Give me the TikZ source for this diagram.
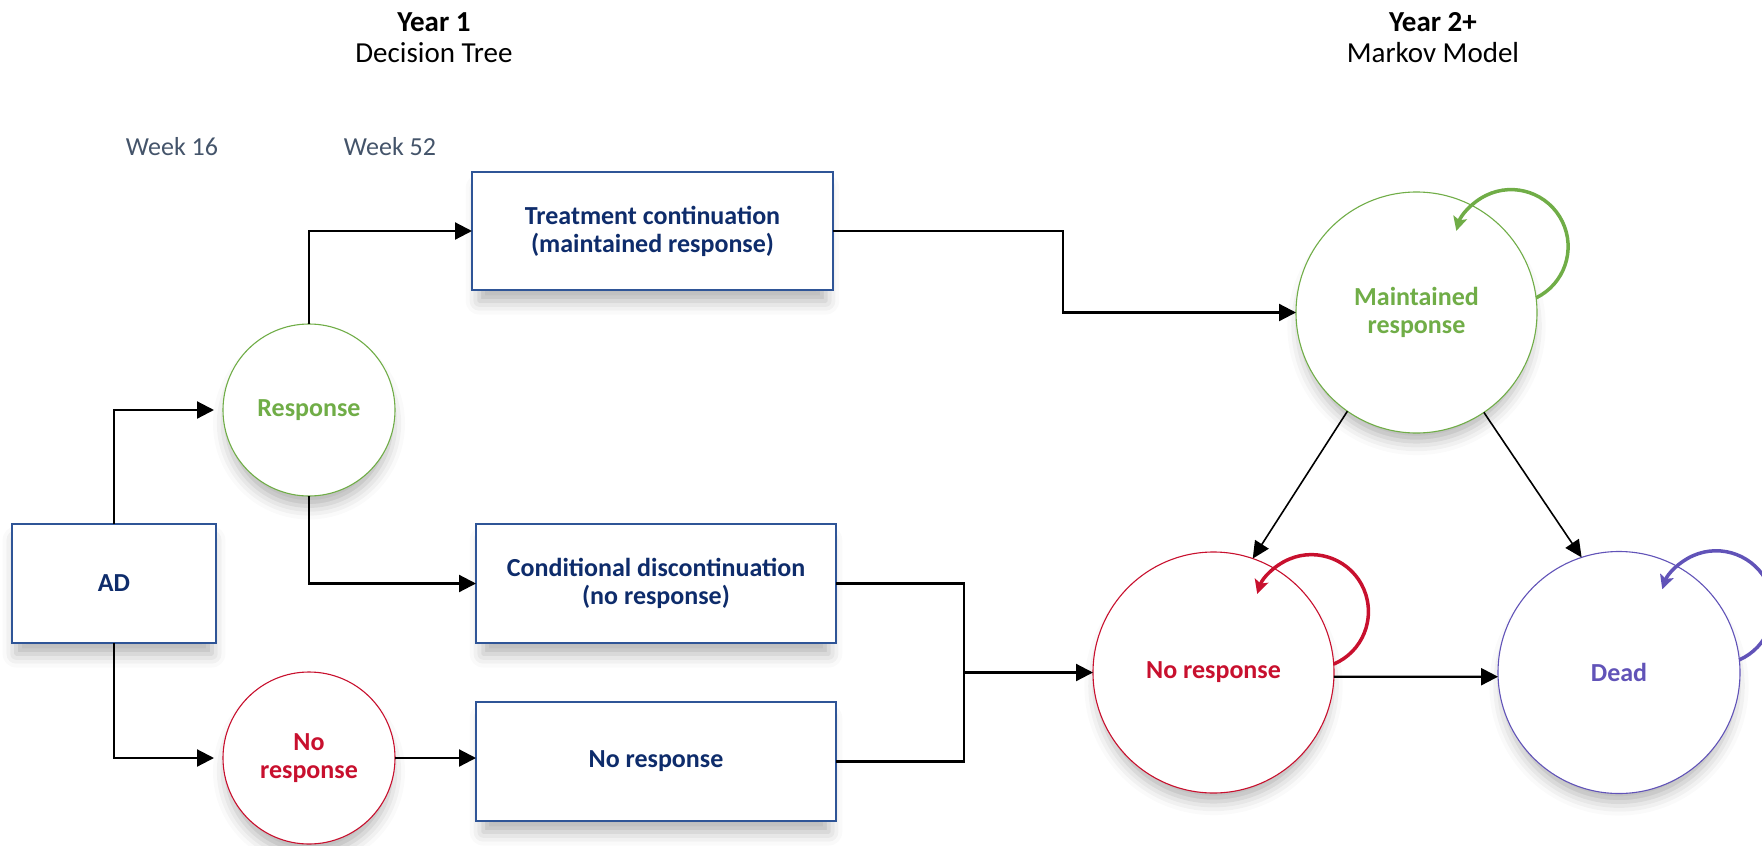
\documentclass[tikz,border=0pt]{standalone}
\usepackage{fontspec}
\setmainfont{Carlito}
\usetikzlibrary{arrows.meta,shadows.blur}

\definecolor{navy}{HTML}{0E2C6B}
\definecolor{boxline}{HTML}{2F5597}
\definecolor{weekgrey}{HTML}{44546A}
\definecolor{stgreen}{HTML}{70AD47}
\definecolor{stred}{HTML}{C8102E}
\definecolor{stpurple}{HTML}{6153B8}

\tikzset{
  softshadow/.style={blur shadow={shadow xshift=0pt, shadow yshift=-14pt,
      shadow blur radius=14pt, shadow opacity=30, shadow scale=0.96}},
  treebox/.style={rectangle, draw=boxline, line width=1.2pt, fill=white,
      inner sep=0pt, outer sep=0pt, align=center, text=navy,
      font=\fontsize{26}{28}\selectfont\bfseries, softshadow},
  markov/.style={circle, draw=#1, line width=1.1pt, fill=white,
      inner sep=0pt, outer sep=0pt, align=center, text=#1,
      font=\fontsize{26}{28}\selectfont\bfseries, softshadow},
  conn/.style={draw=black, line width=2.2pt, -{Triangle[length=17pt,width=17pt]}},
  plainconn/.style={draw=black, line width=2.2pt},
  diag/.style={draw=black, line width=1.6pt, -{Triangle[length=17pt,width=16pt]}},
  selfloop/.style={draw=#1, line width=3.5pt, -{Stealth[length=14pt,width=14pt,inset=3pt]}},
  titlebold/.style={anchor=base, font=\fontsize{29}{31}\selectfont\bfseries},
  titleplain/.style={anchor=base, font=\fontsize{29}{31}\selectfont},
  week/.style={anchor=base, text=weekgrey, font=\fontsize{26}{28}\selectfont},
}

\begin{document}
\begin{tikzpicture}[x=1pt,y=-1pt]
\useasboundingbox (0,0) rectangle (1762,846);

% headings
\node[titlebold]  (y1)  at (434,31)  {Year 1};
\node[titleplain] (dt)  at (434,62)  {Decision Tree};
\node[titlebold]  (y2)  at (1433,31) {Year 2+};
\node[titleplain] (mm)  at (1433,62) {Markov Model};
\node[week] (w16) at (172,155) {Week 16};
\node[week] (w52) at (390,155) {Week 52};

% decision tree
\node[treebox, minimum width=204pt, minimum height=119pt] (ad) at (114,583.5) {AD};
\node[markov=stgreen, minimum size=172pt] (resp) at (309,410) {Response};
\node[markov=stred, minimum size=172pt] (nrA) at (309,758) {No\\response};
\node[treebox, minimum width=361pt, minimum height=118pt] (treat) at (652.5,231)
  {Treatment continuation\\(maintained response)};
\node[treebox, minimum width=360pt, minimum height=119pt] (cond) at (656,583.5)
  {Conditional discontinuation\\(no response)};
\node[treebox, minimum width=360pt, minimum height=119pt] (nrbox) at (656,761.5) {No response};

% Markov states
\node[markov=stgreen, minimum size=241pt] (mr) at (1416.5,312.5) {Maintained\\response};
\node[markov=stred, minimum size=241pt] (nrB) at (1213.5,672.5) {No response};
\node[markov=stpurple, minimum size=242pt] (dead) at (1619,672.5) {Dead};

% tree connectors
\draw[conn, shorten >=9pt] (ad.north) |- (resp.west);
\draw[conn, shorten >=9pt] (ad.south) |- (nrA.west);
\draw[conn] (resp.north) |- (treat.west);
\draw[conn] (resp.south) |- (cond.west);
\draw[conn] (nrA.east) -- (nrA.east -| nrbox.west);

% into the Markov model
\coordinate (j1) at (1063,231);
\coordinate (j2) at (964,672.5);
\draw[conn] (treat.east) -- (j1) |- (mr.west);
\draw[plainconn] (cond.east) -| (j2);
\draw[plainconn] (nrbox.east) -| (j2);
\draw[conn] (j2) -- (nrB.west);

% transitions between states
\draw[diag] (mr.235.5) -- (nrB.71);
\draw[diag] (mr.304.5) -- (dead.108);
\draw[conn] (nrB.-2) -- (dead.182);

% self loops
\draw[selfloop=stgreen]  (mr.7)   arc[start angle=-64, end angle=164, radius=57pt];
\draw[selfloop=stred]    (nrB.4)  arc[start angle=-67, end angle=162, radius=57pt];
\draw[selfloop=stpurple] (dead.6) arc[start angle=-66, end angle=161, radius=57pt];
\end{tikzpicture}
\end{document}
